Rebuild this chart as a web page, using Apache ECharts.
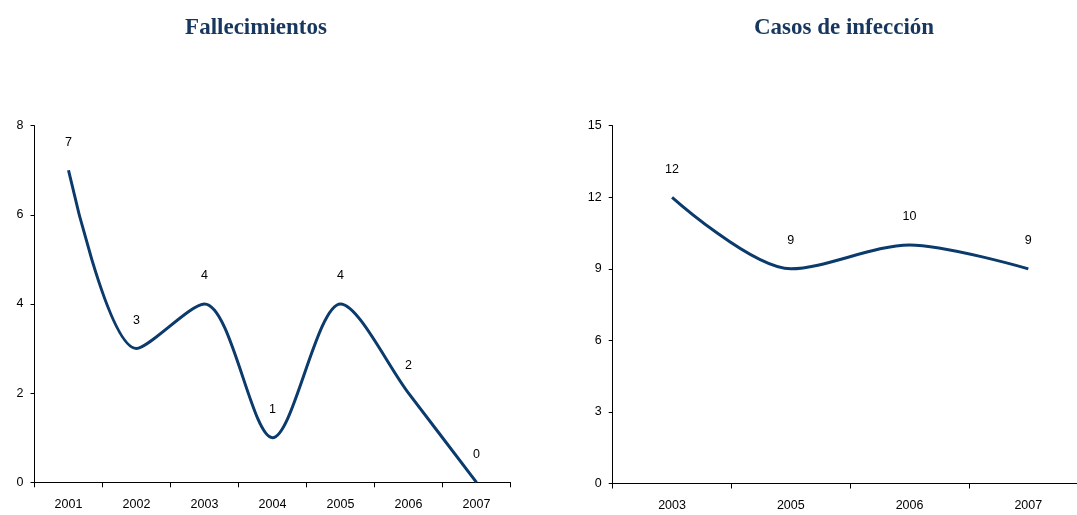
<!DOCTYPE html>
<html>
<head>
<meta charset="utf-8">
<script src="https://cdn.jsdelivr.net/npm/echarts@6/dist/echarts.min.js"></script>
<style>
html,body{margin:0;padding:0;background:#fff;overflow:hidden;}
#c{width:1092px;height:515px;}
</style>
</head>
<body>
<div id="c"></div>
<script>
const deathYears = ['2001','2002','2003','2004','2005','2006','2007'];
const deaths = [7, 3, 4, 1, 4, 2, 0];
const caseYears = ['2003','2005','2006','2007'];
const cases = [12, 9, 10, 9];
const titles = ['Fallecimientos', 'Casos de infección'];

const navy = '#0b3a6c';
const titleColor = '#17375e';
const txt = {fontFamily: 'Liberation Sans, Arial, sans-serif', fontSize: 12.5, color: '#000'};

function xAx(idx, data) {
  return {
    type: 'category', gridIndex: idx, data: data, boundaryGap: true,
    axisLine: {lineStyle: {color: '#000', width: 1}},
    axisTick: {show: true, length: 5, alignWithLabel: false, lineStyle: {color: '#000'}},
    axisLabel: Object.assign({margin: 16}, txt),
    splitLine: {show: false}
  };
}
function yAx(idx, max, interval) {
  return {
    type: 'value', gridIndex: idx, min: 0, max: max, interval: interval,
    axisLine: {show: true, lineStyle: {color: '#000', width: 1}},
    axisTick: {show: true, length: 4, lineStyle: {color: '#000'}},
    axisLabel: Object.assign({margin: 11}, txt),
    splitLine: {show: false}
  };
}
function ser(idx, data) {
  return {
    type: 'line', xAxisIndex: idx, yAxisIndex: idx, data: data,
    smooth: 0.3, symbol: 'circle', symbolSize: 1, showSymbol: true,
    itemStyle: {color: 'rgba(0,0,0,0)'},
    lineStyle: {color: navy, width: 3},
    label: Object.assign({show: true, position: 'top', distance: 21}, txt),
    labelLayout: {hideOverlap: false}
  };
}

const chart = echarts.init(document.getElementById('c'), null, {renderer: 'canvas'});
chart.setOption({
  animation: false,
  backgroundColor: '#fff',
  title: [
    {text: titles[0], left: 251, top: 12, textAlign: 'center',
     textStyle: {fontFamily: 'Liberation Serif, Times New Roman, serif', fontWeight: 'bold', fontSize: 23, color: titleColor}},
    {text: titles[1], left: 839, top: 12, textAlign: 'center',
     textStyle: {fontFamily: 'Liberation Serif, Times New Roman, serif', fontWeight: 'bold', fontSize: 23, color: titleColor}}
  ],
  grid: [
    {left: 34.5, top: 125.7, width: 476, height: 356.6},
    {left: 612.7, top: 125.7, width: 475, height: 357.8}
  ],
  xAxis: [xAx(0, deathYears), xAx(1, caseYears)],
  yAxis: [yAx(0, 8, 2), yAx(1, 15, 3)],
  series: [ser(0, deaths), ser(1, cases)]
});
</script>
</body>
</html>
